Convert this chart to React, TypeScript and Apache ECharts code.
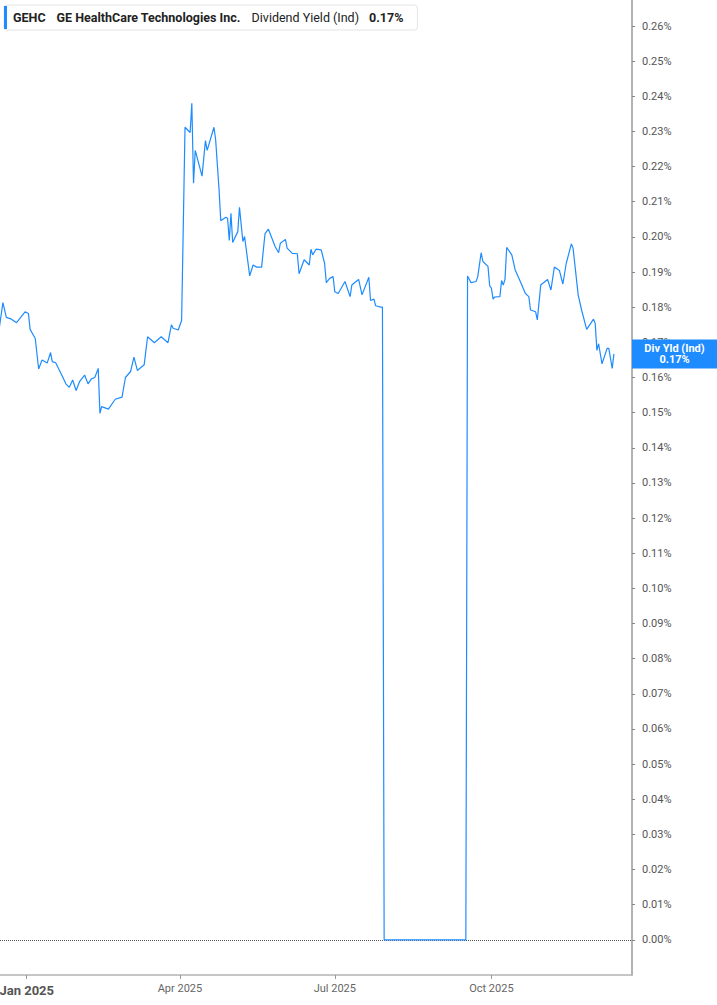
import React, { useEffect, useRef } from "react";
import * as echarts from "echarts";

const DATES: string[] = [
  "2024-12-16", "2024-12-18", "2024-12-20", "2024-12-23", "2024-12-26", "2024-12-31",
  "2025-01-02", "2025-01-03", "2025-01-06", "2025-01-08", "2025-01-10", "2025-01-13",
  "2025-01-15", "2025-01-16", "2025-01-18", "2025-01-22", "2025-01-24", "2025-01-26",
  "2025-01-28", "2025-01-30", "2025-02-01", "2025-02-04", "2025-02-06", "2025-02-08",
  "2025-02-10", "2025-02-12", "2025-02-13", "2025-02-14", "2025-02-18", "2025-02-22",
  "2025-02-26", "2025-02-28", "2025-03-03", "2025-03-05", "2025-03-07", "2025-03-11",
  "2025-03-13", "2025-03-17", "2025-03-21", "2025-03-25", "2025-03-27", "2025-03-28",
  "2025-03-31", "2025-04-02", "2025-04-04", "2025-04-07", "2025-04-08", "2025-04-09",
  "2025-04-10", "2025-04-14", "2025-04-16", "2025-04-17", "2025-04-21", "2025-04-22",
  "2025-04-24", "2025-04-25", "2025-04-28", "2025-04-29", "2025-04-30", "2025-05-01",
  "2025-05-02", "2025-05-05", "2025-05-06", "2025-05-08", "2025-05-09", "2025-05-12",
  "2025-05-14", "2025-05-16", "2025-05-19", "2025-05-21", "2025-05-23", "2025-05-27",
  "2025-05-29", "2025-05-30", "2025-06-02", "2025-06-03", "2025-06-06", "2025-06-09",
  "2025-06-10", "2025-06-13", "2025-06-16", "2025-06-17", "2025-06-18", "2025-06-20",
  "2025-06-23", "2025-06-25", "2025-06-26", "2025-06-28", "2025-06-30", "2025-07-01",
  "2025-07-03", "2025-07-07", "2025-07-10", "2025-07-11", "2025-07-15", "2025-07-17",
  "2025-07-21", "2025-07-22", "2025-07-24", "2025-07-25", "2025-07-28", "2025-07-29",
  "2025-07-30", "2025-09-16", "2025-09-17", "2025-09-19", "2025-09-22", "2025-09-23",
  "2025-09-25", "2025-09-26", "2025-09-29", "2025-09-30", "2025-10-01", "2025-10-02",
  "2025-10-03", "2025-10-06", "2025-10-07", "2025-10-08", "2025-10-09", "2025-10-10",
  "2025-10-13", "2025-10-15", "2025-10-18", "2025-10-21", "2025-10-23", "2025-10-24",
  "2025-10-27", "2025-10-28", "2025-10-30", "2025-11-03", "2025-11-05", "2025-11-07",
  "2025-11-09", "2025-11-10", "2025-11-12", "2025-11-14", "2025-11-17", "2025-11-18",
  "2025-11-21", "2025-11-23", "2025-11-26", "2025-11-30", "2025-12-01", "2025-12-02",
  "2025-12-03", "2025-12-05", "2025-12-08", "2025-12-09", "2025-12-11", "2025-12-12",
];

// Dividend yield in percent
const VALUES: number[] = [
  0.1745, 0.1813, 0.1771, 0.1766, 0.1756, 0.1787,
  0.1782, 0.1737, 0.1711, 0.1624, 0.165, 0.1641,
  0.1671, 0.1645, 0.1642, 0.1603, 0.1582, 0.1572,
  0.1593, 0.1563, 0.1588, 0.1607, 0.1582, 0.1596,
  0.16, 0.1626, 0.1498, 0.1517, 0.151, 0.1538,
  0.1544, 0.16, 0.1617, 0.1658, 0.162, 0.1636,
  0.1716, 0.1699, 0.1716, 0.1699, 0.175, 0.174,
  0.1735, 0.1762, 0.2312, 0.2297, 0.238, 0.2153,
  0.2246, 0.2173, 0.2274, 0.2246, 0.2312, 0.2276,
  0.2134, 0.2046, 0.2056, 0.2053, 0.199, 0.2067,
  0.1984, 0.2015, 0.2084, 0.1987, 0.2001, 0.1889,
  0.192, 0.1914, 0.1914, 0.2009, 0.2022, 0.1972,
  0.1955, 0.1982, 0.1993, 0.1968, 0.1953, 0.1952,
  0.1895, 0.1935, 0.192, 0.1965, 0.1949, 0.1965,
  0.1963, 0.1925, 0.187, 0.1882, 0.1887, 0.1844,
  0.1839, 0.1873, 0.183, 0.1863, 0.1879, 0.1835,
  0.1885, 0.1819, 0.1823, 0.1804, 0.18, 0.18,
  0, 0, 0.1889, 0.187, 0.1873, 0.1887,
  0.1955, 0.193, 0.1916, 0.1861, 0.1854, 0.1823,
  0.1829, 0.183, 0.1876, 0.1863, 0.1879, 0.197,
  0.1949, 0.1906, 0.1873, 0.1839, 0.183, 0.1792,
  0.1787, 0.1764, 0.1863, 0.1879, 0.1849, 0.1914,
  0.1908, 0.1904, 0.1866, 0.1925, 0.198, 0.1968,
  0.1835, 0.1792, 0.1737, 0.1766, 0.1754, 0.1677,
  0.1696, 0.1639, 0.1683, 0.1683, 0.1626, 0.1667,
];

const X_TICKS: string[] = ["2025-01-01", "2025-04-01", "2025-07-01", "2025-10-01"];
const X_TICK_LABELS: string[] = ["Jan 2025", "Apr 2025", "Jul 2025", "Oct 2025"];
const Y_TICKS: number[] = [
  0.0, 0.01, 0.02, 0.03, 0.04, 0.05, 0.06, 0.07, 0.08, 0.09, 0.1, 0.11, 0.12, 0.13,
  0.14, 0.15, 0.16, 0.17, 0.18, 0.19, 0.2, 0.21, 0.22, 0.23, 0.24, 0.25, 0.26,
];

const TICKER = "GEHC";
const COMPANY = "GE HealthCare Technologies Inc.";
const METRIC = "Dividend Yield (Ind)";
const SHORT_METRIC = "Div Yld (Ind)";

const BLUE = "#1e8cff";

function localTs(s: string, hour = 0): number {
  const [y, m, d] = s.split("-").map(Number);
  return new Date(y, m - 1, d, hour).getTime();
}

export default function App() {
  const ref = useRef<HTMLDivElement>(null);

  useEffect(() => {
    if (!ref.current) return;
    const chart = echarts.init(ref.current, undefined, { renderer: "svg" });
    const data = DATES.map((d, i) => [localTs(d), VALUES[i]]);
    const last = VALUES[VALUES.length - 1];
    const xMin = localTs("2024-12-16", 7);
    const xMax = localTs("2025-12-22", 15);
    const xTickTs = X_TICKS.map((d) => localTs(d));

    chart.setOption({
      animation: false,
      textStyle: { fontFamily: "Roboto" },
      grid: {
        left: 0,
        right: 85,
        top: 0,
        bottom: 30,
        containLabel: false,
        outerBoundsMode: "none",
      },
      legend: {
        left: 4,
        top: 5,
        padding: [1, 14, 1, 0],
        backgroundColor: "#fff",
        borderColor: "#e4e4e4",
        borderWidth: 1,
        borderRadius: 3,
        itemWidth: 3,
        itemHeight: 23,
        selectedMode: false,
        data: [{ name: TICKER, icon: "rect", itemStyle: { color: BLUE } }],
        formatter: () =>
          `{t|${TICKER}}{n|${COMPANY}}{d|${METRIC}}{v|${last.toFixed(2)}%}`,
        textStyle: {
          rich: {
            t: { fontFamily: "Roboto", fontSize: 12.5, fontWeight: "bold", color: "#222", padding: [0, 0, 0, 1] },
            n: { fontFamily: "Roboto", fontSize: 12.5, fontWeight: "bold", color: "#222", padding: [0, 0, 0, 11] },
            d: { fontFamily: "Roboto", fontSize: 12.5, color: "#222", padding: [0, 0, 0, 11] },
            v: { fontFamily: "Roboto", fontSize: 12.5, fontWeight: "bold", color: "#222", padding: [0, 0, 0, 10] },
          },
        },
      },
      xAxis: {
        type: "value",
        min: xMin,
        max: xMax,
        axisLine: { show: true, onZero: false, lineStyle: { color: "#b3b3b3", width: 1.5 } },
        axisTick: {
          show: true,
          customValues: xTickTs,
          length: 4,
          lineStyle: { color: "#999", width: 1 },
        },
        axisLabel: {
          customValues: xTickTs,
          margin: 8,
          hideOverlap: false,
          formatter: (v: number) => {
            const idx = xTickTs.indexOf(v);
            const txt = idx >= 0 ? X_TICK_LABELS[idx] : "";
            return idx === 0 ? `{b|${txt}}` : `{n|${txt}}`;
          },
          rich: {
            b: { fontFamily: "Roboto", fontSize: 13, fontWeight: "bold", color: "#555", padding: [1, 0, 0, 0] },
            n: { fontFamily: "Roboto", fontSize: 11, color: "#666" },
          },
        },
        splitLine: { show: false },
      },
      yAxis: {
        type: "value",
        position: "right",
        min: -0.01,
        max: 0.2674,
        axisLine: { show: true, lineStyle: { color: "#999", width: 1.5 } },
        axisTick: {
          show: true,
          customValues: Y_TICKS,
          length: 3,
          lineStyle: { color: "#888", width: 1 },
        },
        axisLabel: {
          customValues: Y_TICKS,
          margin: 10,
          fontFamily: "Roboto",
          fontSize: 11,
          color: "#555",
          formatter: (v: number) => `${v.toFixed(2)}%`,
        },
        splitLine: { show: false },
      },
      series: [
        {
          name: TICKER,
          type: "line",
          data,
          showSymbol: false,
          symbol: "none",
          color: BLUE,
          lineStyle: { color: BLUE, width: 1.2 },
          z: 3,
          markLine: {
            silent: true,
            symbol: "none",
            label: { show: false },
            lineStyle: { type: "dotted", color: "#555", width: 1 },
            data: [{ yAxis: 0 }],
            z: 1,
          },
          markPoint: {
            silent: true,
            symbol: "rect",
            symbolSize: [85, 29],
            symbolOffset: [42.5, 0],
            itemStyle: { color: BLUE },
            label: {
              show: true,
              position: "inside",
              color: "#fff",
              fontFamily: "Roboto",
              fontSize: 11,
              fontWeight: "bold",
              lineHeight: 11,
              formatter: () => `${SHORT_METRIC}\n${last.toFixed(2)}%`,
            },
            data: [{ coord: [xMax, last] }],
            z: 10,
          },
        },
      ],
    });

    return () => chart.dispose();
  }, []);

  return (
    <div
      ref={ref}
      style={{ position: "absolute", left: 0, top: 0, width: 717, height: 1005 }}
    />
  );
}
